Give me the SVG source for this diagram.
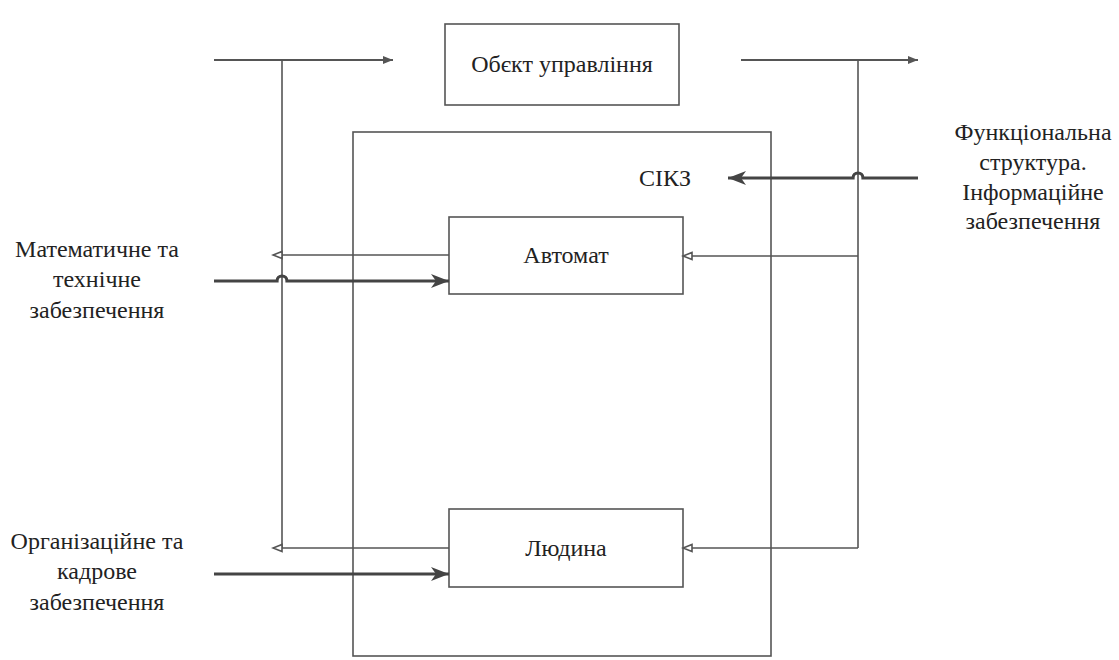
<svg xmlns="http://www.w3.org/2000/svg" width="1119" height="660" viewBox="0 0 1119 660">
<style>
.box{fill:#fff;stroke:#555;stroke-width:1.6}
.t{font-family:'Liberation Serif','DejaVu Serif',serif;font-size:24px;fill:#222;text-anchor:middle}
.thin{fill:none;stroke:#555;stroke-width:1.6}
.mid{fill:none;stroke:#555;stroke-width:2.2}
.thick{fill:none;stroke:#444;stroke-width:3.2}
</style>
<defs>
<marker id="big" markerUnits="userSpaceOnUse" markerWidth="20" markerHeight="14" refX="18" refY="7" orient="auto">
<path d="M0,0 L18,7 L0,14 L5,7 Z" fill="#444"/>
</marker>
<marker id="small" markerUnits="userSpaceOnUse" markerWidth="12" markerHeight="10" refX="11" refY="5" orient="auto">
<path d="M1,1 L11,5 L1,9 Z" fill="#555"/>
</marker>
<marker id="open" markerUnits="userSpaceOnUse" markerWidth="12" markerHeight="10" refX="10" refY="5" orient="auto">
<path d="M1,1.5 L10,5 L1,8.5 Z" fill="#fff" stroke="#555" stroke-width="1.6"/>
</marker>
</defs>

<g id="sikz">
<rect class="box" x="353" y="132" width="418" height="524"/>
<text class="t" x="665" y="186">СІКЗ</text>
</g>

<g id="object">
<rect class="box" x="445" y="24" width="234" height="81"/>
<text class="t" x="562" y="72">Обєкт управління</text>
</g>

<g id="avtomat">
<rect class="box" x="449" y="217" width="234" height="77"/>
<text class="t" x="566" y="263">Автомат</text>
</g>

<g id="liudyna">
<rect class="box" x="449" y="509" width="234" height="78"/>
<text class="t" x="566" y="556">Людина</text>
</g>

<g id="label-math">
<text class="t" x="97" y="257">Математичне та</text>
<text class="t" x="97" y="287">технічне</text>
<text class="t" x="97" y="318">забезпечення</text>
</g>

<g id="label-org">
<text class="t" x="97" y="549">Організаційне та</text>
<text class="t" x="97" y="579">кадрове</text>
<text class="t" x="97" y="610">забезпечення</text>
</g>

<g id="label-func">
<text class="t" x="1033" y="140">Функціональна</text>
<text class="t" x="1033" y="170">структура.</text>
<text class="t" x="1033" y="200">Інформаційне</text>
<text class="t" x="1033" y="229">забезпечення</text>
</g>

<g id="connectors">
<path class="mid" d="M214,60 H393" marker-end="url(#small)"/>
<path class="mid" d="M741,60 H918" marker-end="url(#small)"/>
<path class="thin" d="M282,60 V548"/>
<path class="thin" d="M858,60 V548"/>
<path class="thin" d="M449,255 H273" marker-end="url(#open)"/>
<path class="thin" d="M449,548 H273" marker-end="url(#open)"/>
<path class="thin" d="M858,256 H683" marker-end="url(#open)"/>
<path class="thin" d="M858,548 H683" marker-end="url(#open)"/>
<path class="thick" d="M214,281 H277 A5,5 0 0 1 287,281 H449" marker-end="url(#big)"/>
<path class="thick" d="M214,574 H449" marker-end="url(#big)"/>
<path class="thick" d="M918,178 H863 A5,5 0 0 0 853,178 H728" marker-end="url(#big)"/>
</g>
</svg>
